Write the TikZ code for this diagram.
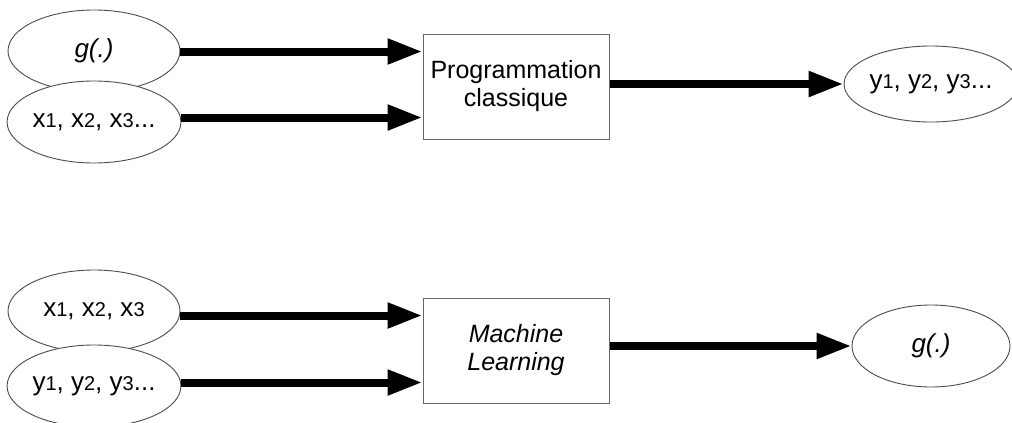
\documentclass[tikz,border=0pt]{standalone}
\usepackage{fontspec}
\setmainfont{Liberation Sans}
\usetikzlibrary{shapes.geometric,arrows.meta,calc}
\newcommand\dg[1]{{\fontsize{20}{20}\selectfont #1}}
\begin{document}
\begin{tikzpicture}[x=1pt,y=-1pt,
  oval/.style={ellipse,draw=black!70,line width=0.9pt,fill=white,inner sep=0pt,
    minimum width=172pt,minimum height=82pt,font=\fontsize{26}{29}\selectfont},
  procbox/.style={rectangle,draw=black!60,line width=1pt,fill=white,
    minimum width=186pt,minimum height=105pt,align=center,inner sep=0pt,
    font=\fontsize{25}{28}\selectfont},
  bigarrow/.style={line width=8pt,-{Triangle[length=35pt,width=24pt]}}]
\useasboundingbox (0,0) rectangle (1012,423);
% top row
\node[oval] (g1) at (94,51) {\textit{g(.)}};
\node[oval] (x1) at (94,122) {x\dg{1}, x\dg{2}, x\dg{3}...};
\node[procbox] (b1) at (516,86.5) {Programmation\\classique};
\node[oval,minimum width=158pt,minimum height=76pt] (y1) at (931,84) {y\dg{1}, y\dg{2}, y\dg{3}...};
\coordinate (b1a) at ($(b1.north west)+(0,18)$);
\coordinate (b1b) at ($(b1.south west)+(0,-22)$);
\draw[bigarrow] (g1.east |- b1a) -- (b1a);
\draw[bigarrow] (x1.east |- b1b) -- (b1b);
\draw[bigarrow] (b1.east |- y1.west) -- (y1.west);
% bottom row
\node[oval] (x2) at (94,311) {x\dg{1}, x\dg{2}, x\dg{3}};
\node[oval] (y2) at (94,386) {y\dg{1}, y\dg{2}, y\dg{3}...};
\node[procbox] (b2) at (516,350.5) {\textit{Machine}\\\textit{Learning}};
\node[oval,minimum width=158pt,minimum height=82pt] (g2) at (931,346) {\textit{g(.)}};
\coordinate (b2a) at ($(b2.north west)+(0,18)$);
\coordinate (b2b) at ($(b2.south west)+(0,-21)$);
\draw[bigarrow] (x2.east |- b2a) -- (b2a);
\draw[bigarrow] (y2.east |- b2b) -- (b2b);
\draw[bigarrow] (b2.east |- g2.west) -- (g2.west);
\end{tikzpicture}
\end{document}
